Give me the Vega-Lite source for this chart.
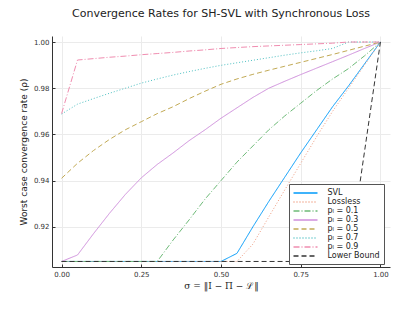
{
  "$schema": "https://vega.github.io/schema/vega-lite/v6.json",
  "width": 338,
  "height": 231,
  "autosize": {"type": "none"},
  "padding": {"left": 52, "top": 36, "right": 25, "bottom": 45},
  "title": {"text": "Convergence Rates for SH-SVL with Synchronous Loss", "fontSize": 11, "fontWeight": "normal", "font": "DejaVu Sans", "color": "#222", "offset": 17},
  "datasets": {
    "d": [
      {"s":"SVL","x":0,"y":0.905},{"s":"SVL","x":0.05,"y":0.905},{"s":"SVL","x":0.1,"y":0.905},{"s":"SVL","x":0.15,"y":0.905},{"s":"SVL","x":0.2,"y":0.905},{"s":"SVL","x":0.25,"y":0.905},{"s":"SVL","x":0.3,"y":0.905},{"s":"SVL","x":0.35,"y":0.905},{"s":"SVL","x":0.4,"y":0.905},{"s":"SVL","x":0.45,"y":0.905},{"s":"SVL","x":0.5,"y":0.905},{"s":"SVL","x":0.55,"y":0.9085},{"s":"SVL","x":0.6,"y":0.92},{"s":"SVL","x":0.65,"y":0.931},{"s":"SVL","x":0.7,"y":0.9415},{"s":"SVL","x":0.75,"y":0.952},{"s":"SVL","x":0.8,"y":0.962},{"s":"SVL","x":0.85,"y":0.972},{"s":"SVL","x":0.9,"y":0.981},{"s":"SVL","x":0.95,"y":0.9905},{"s":"SVL","x":1,"y":1.0},
      {"s":"Lossless","x":0,"y":0.905},{"s":"Lossless","x":0.05,"y":0.905},{"s":"Lossless","x":0.1,"y":0.905},{"s":"Lossless","x":0.15,"y":0.905},{"s":"Lossless","x":0.2,"y":0.905},{"s":"Lossless","x":0.25,"y":0.905},{"s":"Lossless","x":0.3,"y":0.905},{"s":"Lossless","x":0.35,"y":0.905},{"s":"Lossless","x":0.4,"y":0.905},{"s":"Lossless","x":0.45,"y":0.905},{"s":"Lossless","x":0.5,"y":0.905},{"s":"Lossless","x":0.55,"y":0.905},{"s":"Lossless","x":0.6,"y":0.9125},{"s":"Lossless","x":0.65,"y":0.9243},{"s":"Lossless","x":0.7,"y":0.936},{"s":"Lossless","x":0.75,"y":0.9475},{"s":"Lossless","x":0.8,"y":0.959},{"s":"Lossless","x":0.85,"y":0.97},{"s":"Lossless","x":0.9,"y":0.98},{"s":"Lossless","x":0.95,"y":0.99},{"s":"Lossless","x":1,"y":1.0},
      {"s":"pₗ = 0.1","x":0,"y":0.905},{"s":"pₗ = 0.1","x":0.05,"y":0.905},{"s":"pₗ = 0.1","x":0.1,"y":0.905},{"s":"pₗ = 0.1","x":0.15,"y":0.905},{"s":"pₗ = 0.1","x":0.2,"y":0.905},{"s":"pₗ = 0.1","x":0.25,"y":0.905},{"s":"pₗ = 0.1","x":0.3,"y":0.905},{"s":"pₗ = 0.1","x":0.35,"y":0.9143},{"s":"pₗ = 0.1","x":0.4,"y":0.923},{"s":"pₗ = 0.1","x":0.45,"y":0.932},{"s":"pₗ = 0.1","x":0.5,"y":0.94},{"s":"pₗ = 0.1","x":0.55,"y":0.948},{"s":"pₗ = 0.1","x":0.6,"y":0.955},{"s":"pₗ = 0.1","x":0.65,"y":0.962},{"s":"pₗ = 0.1","x":0.7,"y":0.968},{"s":"pₗ = 0.1","x":0.75,"y":0.9735},{"s":"pₗ = 0.1","x":0.8,"y":0.979},{"s":"pₗ = 0.1","x":0.85,"y":0.984},{"s":"pₗ = 0.1","x":0.9,"y":0.9885},{"s":"pₗ = 0.1","x":0.95,"y":0.994},{"s":"pₗ = 0.1","x":1,"y":1.0},
      {"s":"pₗ = 0.3","x":0,"y":0.905},{"s":"pₗ = 0.3","x":0.05,"y":0.9078},{"s":"pₗ = 0.3","x":0.1,"y":0.917},{"s":"pₗ = 0.3","x":0.15,"y":0.9258},{"s":"pₗ = 0.3","x":0.2,"y":0.934},{"s":"pₗ = 0.3","x":0.25,"y":0.9412},{"s":"pₗ = 0.3","x":0.3,"y":0.947},{"s":"pₗ = 0.3","x":0.35,"y":0.952},{"s":"pₗ = 0.3","x":0.4,"y":0.9573},{"s":"pₗ = 0.3","x":0.45,"y":0.962},{"s":"pₗ = 0.3","x":0.5,"y":0.967},{"s":"pₗ = 0.3","x":0.55,"y":0.9715},{"s":"pₗ = 0.3","x":0.6,"y":0.976},{"s":"pₗ = 0.3","x":0.65,"y":0.98},{"s":"pₗ = 0.3","x":0.7,"y":0.983},{"s":"pₗ = 0.3","x":0.75,"y":0.9859},{"s":"pₗ = 0.3","x":0.8,"y":0.9887},{"s":"pₗ = 0.3","x":0.85,"y":0.9915},{"s":"pₗ = 0.3","x":0.9,"y":0.9943},{"s":"pₗ = 0.3","x":0.95,"y":0.9972},{"s":"pₗ = 0.3","x":1,"y":1.0},
      {"s":"pₗ = 0.5","x":0,"y":0.941},{"s":"pₗ = 0.5","x":0.05,"y":0.9475},{"s":"pₗ = 0.5","x":0.1,"y":0.953},{"s":"pₗ = 0.5","x":0.15,"y":0.9578},{"s":"pₗ = 0.5","x":0.2,"y":0.962},{"s":"pₗ = 0.5","x":0.25,"y":0.9655},{"s":"pₗ = 0.5","x":0.3,"y":0.969},{"s":"pₗ = 0.5","x":0.35,"y":0.972},{"s":"pₗ = 0.5","x":0.4,"y":0.9755},{"s":"pₗ = 0.5","x":0.45,"y":0.9787},{"s":"pₗ = 0.5","x":0.5,"y":0.9817},{"s":"pₗ = 0.5","x":0.55,"y":0.984},{"s":"pₗ = 0.5","x":0.6,"y":0.986},{"s":"pₗ = 0.5","x":0.65,"y":0.9878},{"s":"pₗ = 0.5","x":0.7,"y":0.9895},{"s":"pₗ = 0.5","x":0.75,"y":0.9912},{"s":"pₗ = 0.5","x":0.8,"y":0.9929},{"s":"pₗ = 0.5","x":0.85,"y":0.9946},{"s":"pₗ = 0.5","x":0.9,"y":0.9964},{"s":"pₗ = 0.5","x":0.95,"y":0.9982},{"s":"pₗ = 0.5","x":1,"y":1.0},
      {"s":"pₗ = 0.7","x":0,"y":0.9688},{"s":"pₗ = 0.7","x":0.05,"y":0.9731},{"s":"pₗ = 0.7","x":0.1,"y":0.9755},{"s":"pₗ = 0.7","x":0.15,"y":0.9778},{"s":"pₗ = 0.7","x":0.2,"y":0.98},{"s":"pₗ = 0.7","x":0.25,"y":0.9822},{"s":"pₗ = 0.7","x":0.3,"y":0.984},{"s":"pₗ = 0.7","x":0.35,"y":0.9857},{"s":"pₗ = 0.7","x":0.4,"y":0.9872},{"s":"pₗ = 0.7","x":0.45,"y":0.9886},{"s":"pₗ = 0.7","x":0.5,"y":0.9899},{"s":"pₗ = 0.7","x":0.55,"y":0.991},{"s":"pₗ = 0.7","x":0.6,"y":0.9921},{"s":"pₗ = 0.7","x":0.65,"y":0.9932},{"s":"pₗ = 0.7","x":0.7,"y":0.9943},{"s":"pₗ = 0.7","x":0.75,"y":0.9953},{"s":"pₗ = 0.7","x":0.8,"y":0.9962},{"s":"pₗ = 0.7","x":0.85,"y":0.9972},{"s":"pₗ = 0.7","x":0.9,"y":1.0},{"s":"pₗ = 0.7","x":0.95,"y":1.0},{"s":"pₗ = 0.7","x":1,"y":1.0},
      {"s":"pₗ = 0.9","x":0,"y":0.969},{"s":"pₗ = 0.9","x":0.05,"y":0.9922},{"s":"pₗ = 0.9","x":0.1,"y":0.9928},{"s":"pₗ = 0.9","x":0.15,"y":0.9934},{"s":"pₗ = 0.9","x":0.2,"y":0.9939},{"s":"pₗ = 0.9","x":0.25,"y":0.9945},{"s":"pₗ = 0.9","x":0.3,"y":0.995},{"s":"pₗ = 0.9","x":0.35,"y":0.9955},{"s":"pₗ = 0.9","x":0.4,"y":0.9961},{"s":"pₗ = 0.9","x":0.45,"y":0.9966},{"s":"pₗ = 0.9","x":0.5,"y":0.9972},{"s":"pₗ = 0.9","x":0.55,"y":0.9976},{"s":"pₗ = 0.9","x":0.6,"y":0.998},{"s":"pₗ = 0.9","x":0.65,"y":0.9983},{"s":"pₗ = 0.9","x":0.7,"y":0.9986},{"s":"pₗ = 0.9","x":0.75,"y":0.9989},{"s":"pₗ = 0.9","x":0.8,"y":0.9992},{"s":"pₗ = 0.9","x":0.85,"y":0.9995},{"s":"pₗ = 0.9","x":0.9,"y":1.0},{"s":"pₗ = 0.9","x":0.95,"y":1.0},{"s":"pₗ = 0.9","x":1,"y":1.0},
      {"s":"Lower Bound","x":0,"y":0.905},{"s":"Lower Bound","x":0.05,"y":0.905},{"s":"Lower Bound","x":0.1,"y":0.905},{"s":"Lower Bound","x":0.15,"y":0.905},{"s":"Lower Bound","x":0.2,"y":0.905},{"s":"Lower Bound","x":0.25,"y":0.905},{"s":"Lower Bound","x":0.3,"y":0.905},{"s":"Lower Bound","x":0.35,"y":0.905},{"s":"Lower Bound","x":0.4,"y":0.905},{"s":"Lower Bound","x":0.45,"y":0.905},{"s":"Lower Bound","x":0.5,"y":0.905},{"s":"Lower Bound","x":0.55,"y":0.905},{"s":"Lower Bound","x":0.6,"y":0.905},{"s":"Lower Bound","x":0.65,"y":0.905},{"s":"Lower Bound","x":0.7,"y":0.905},{"s":"Lower Bound","x":0.75,"y":0.905},{"s":"Lower Bound","x":0.8,"y":0.905},{"s":"Lower Bound","x":0.85,"y":0.905},{"s":"Lower Bound","x":0.9,"y":0.905},{"s":"Lower Bound","x":0.95,"y":0.9525},{"s":"Lower Bound","x":1,"y":1.0}
    ]
  },
  "data": {"name": "d"},
  "mark": {"type": "line", "strokeWidth": 1, "clip": true},
  "encoding": {
    "x": {
      "field": "x", "type": "quantitative",
      "scale": {"domain": [-0.03, 1.03], "nice": false, "zero": false},
      "axis": {"values": [0, 0.25, 0.5, 0.75, 1], "format": ".2f", "title": "σ = ‖I − Π − ℒ‖", "titleFont": "DejaVu Serif", "titlePadding": 4, "labelPadding": 6}
    },
    "y": {
      "field": "y", "type": "quantitative",
      "scale": {"domain": [0.9026, 1.0026], "nice": false, "zero": false},
      "axis": {"values": [0.92, 0.94, 0.96, 0.98, 1.0], "format": ".2f", "title": "Worst case convergence rate (ρ)", "titlePadding": 5, "labelPadding": 6}
    },
    "color": {
      "field": "s", "type": "nominal", "title": null,
      "scale": {
        "domain": ["SVL", "Lossless", "pₗ = 0.1", "pₗ = 0.3", "pₗ = 0.5", "pₗ = 0.7", "pₗ = 0.9", "Lower Bound"],
        "range": ["#009AFA", "#EE9A7E", "#6DBA77", "#CF8EDC", "#C2AA55", "#4DC0C2", "#F08DB0", "#333333"]
      }
    },
    "strokeDash": {
      "field": "s", "type": "nominal", "title": null,
      "scale": {
        "domain": ["SVL", "Lossless", "pₗ = 0.1", "pₗ = 0.3", "pₗ = 0.5", "pₗ = 0.7", "pₗ = 0.9", "Lower Bound"],
        "range": [[1, 0], [1, 2], [6, 2, 1, 2], [1, 0], [5, 3], [1, 2], [6, 2, 1, 2], [5, 3]]
      }
    }
  },
  "config": {
    "view": {"stroke": null},
    "font": "DejaVu Sans",
    "axis": {
      "grid": true, "gridColor": "#ebebeb", "gridWidth": 1,
      "domainColor": "#333333", "domainWidth": 1,
      "tickColor": "#333333", "tickSize": -3, "tickWidth": 1,
      "labelFontSize": 7, "labelColor": "#333333", "labelFont": "DejaVu Sans",
      "titleFontSize": 9, "titleFontWeight": "normal", "titleColor": "#222222", "titleFont": "DejaVu Sans"
    },
    "legend": {
      "orient": "none", "legendX": 237, "legendY": 148,
      "padding": 4, "fillColor": "white", "strokeColor": "#555555",
      "labelFontSize": 8, "labelFont": "DejaVu Sans", "labelColor": "#222222", "labelLimit": 120,
      "symbolType": "M-3,0H3", "symbolSize": 64, "symbolStrokeWidth": 1.3,
      "symbolOffset": 7.5, "labelOffset": 17, "rowPadding": 0
    }
  }
}
